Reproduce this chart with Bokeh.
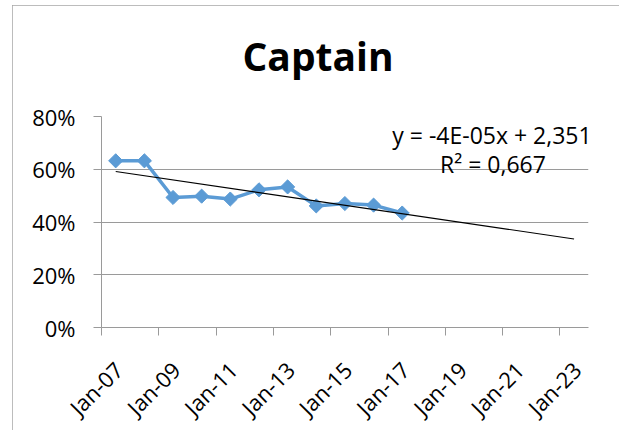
from datetime import datetime
import numpy as np
from bokeh.plotting import figure
from bokeh.layouts import row, column
from bokeh.models import (Range1d, FixedTicker, NumeralTickFormatter, Label,
                          ColumnDataSource, DatetimeTickFormatter, Spacer, Title,
                          LinearAxis)
from bokeh.embed import file_html
from bokeh.resources import INLINE

# ---------------- data ----------------
TITLE = "Captain"
YEARS = [2007, 2008, 2009, 2010, 2011, 2012, 2013, 2014, 2015, 2016, 2017]
VALUES = [0.632, 0.632, 0.493, 0.498, 0.487, 0.522, 0.533, 0.461, 0.470, 0.464, 0.434]
TICK_YEARS = [2007, 2009, 2011, 2013, 2015, 2017, 2019, 2021, 2023]
TICK_LABELS = ["Jan-07", "Jan-09", "Jan-11", "Jan-13", "Jan-15", "Jan-17",
               "Jan-19", "Jan-21", "Jan-23"]
Y_TICKS = [0.0, 0.2, 0.4, 0.6, 0.8]
EQUATION = "y = -4E-05x + 2,351"
R2_TEXT = "R\u00b2 = 0,667"
FORECAST_YEARS = 6
X_START_YEAR, X_END_YEAR = 2007, 2024
Y_MIN, Y_MAX = 0.0, 0.8


def ms(d):
    return int((d - datetime(1970, 1, 1)).total_seconds() * 1000)


x_dates = [ms(datetime(y, 7, 1)) for y in YEARS]
ticks = [ms(datetime(y, 1, 1)) for y in TICK_YEARS]
x0, x1 = ms(datetime(X_START_YEAR, 1, 1)), ms(datetime(X_END_YEAR, 1, 1))

# ---------------- layout (pixels) ----------------
FIG_LEFT, FIG_TOP = 12, 5               # page position of the figure
FL, FT, FW, FH = 89, 111, 487, 211      # frame left/top inside figure, frame size
FB = 430 - FIG_TOP - FT - FH
TITLE_GAP = 35                          # empty space between title and frame
BLUE = "#5b9bd5"
GRID = "#9a9a9a"
FONT = "Open Sans"

p = figure(frame_width=FW, frame_height=FH, output_backend="svg",
           toolbar_location=None, x_range=Range1d(x0, x1),
           y_range=Range1d(Y_MIN, Y_MAX), x_axis_type="datetime",
           min_border_left=FL, min_border_top=FT, min_border_right=31,
           min_border_bottom=FB)
p.styles = {"outline": "1px solid #a6a6a6", "outline-offset": "-1px"}
p.outline_line_color = None
p.background_fill_color = "white"
p.border_fill_color = "white"

# invisible spacer axis between the frame and the title
gap_axis = LinearAxis(ticker=FixedTicker(ticks=[]), axis_line_color=None,
                      major_tick_line_color=None, minor_tick_line_color=None,
                      major_tick_out=TITLE_GAP, major_tick_in=0,
                      major_label_standoff=0, major_label_text_font_size="0px")
p.add_layout(gap_axis, "above")

# title
p.title = Title(text=TITLE, align="left", text_font=FONT,
                text_font_size="39px", text_font_style="bold",
                text_color="black", standoff=0, offset=141)

# axes
p.xaxis.ticker = FixedTicker(ticks=ticks)
p.xaxis.formatter = DatetimeTickFormatter(years="%b-%y", months="%b-%y",
                                          days="%b-%y")
p.below[0].major_label_overrides = {t: "\n" + l for t, l in zip(ticks, TICK_LABELS)}
p.below[0].major_label_orientation = np.pi / 4
p.below[0].major_label_text_line_height = 1.6
p.yaxis.ticker = FixedTicker(ticks=Y_TICKS)
p.yaxis.formatter = NumeralTickFormatter(format="0%")
for ax in (p.below[0], p.left[0]):
    ax.axis_line_color = GRID
    ax.major_tick_line_color = GRID
    ax.major_tick_out = 8
    ax.major_tick_in = 0
    ax.minor_tick_line_color = None
    ax.major_label_text_font = FONT
    ax.major_label_text_font_size = "22px"
    ax.major_label_text_color = "black"
p.left[0].major_label_standoff = 18
p.below[0].major_label_standoff = 13
p.xgrid.grid_line_color = None
p.ygrid.grid_line_color = GRID
p.ygrid.ticker = FixedTicker(ticks=Y_TICKS)

# series
src = ColumnDataSource(dict(x=x_dates, y=VALUES))
p.line("x", "y", source=src, line_color=BLUE, line_width=3.5)
p.scatter("x", "y", source=src, marker="square", angle=np.pi / 4, size=10,
          fill_color=BLUE, line_color=BLUE)

# linear trendline (least squares), forecast forward
slope, icpt = np.polyfit(np.array(x_dates, dtype=float), np.array(VALUES), 1)
tx = [x_dates[0], ms(datetime(YEARS[-1] + FORECAST_YEARS, 7, 1))]
ty = [slope * t + icpt for t in tx]
p.line(tx, ty, line_color="black", line_width=1.2)


# labels placed by page pixel position
def px_x(px):
    return x0 + (px - (FIG_LEFT + FL)) / FW * (x1 - x0)


def px_y(py):
    return Y_MIN + ((FIG_TOP + FT + FH) - py) / FH * (Y_MAX - Y_MIN)


p.add_layout(Label(x=px_x(491.5), y=px_y(134), text=EQUATION,
                   text_align="center", text_baseline="middle",
                   text_font=FONT, text_font_size="23px", text_color="black"))
p.add_layout(Label(x=px_x(492.5), y=px_y(163.5), text=R2_TEXT,
                   text_align="center", text_baseline="middle",
                   text_font=FONT, text_font_size="23px", text_color="black"))

layout = column(Spacer(height=FIG_TOP), row(Spacer(width=FIG_LEFT), p))
open("out.html", "w").write(file_html(layout, INLINE))
